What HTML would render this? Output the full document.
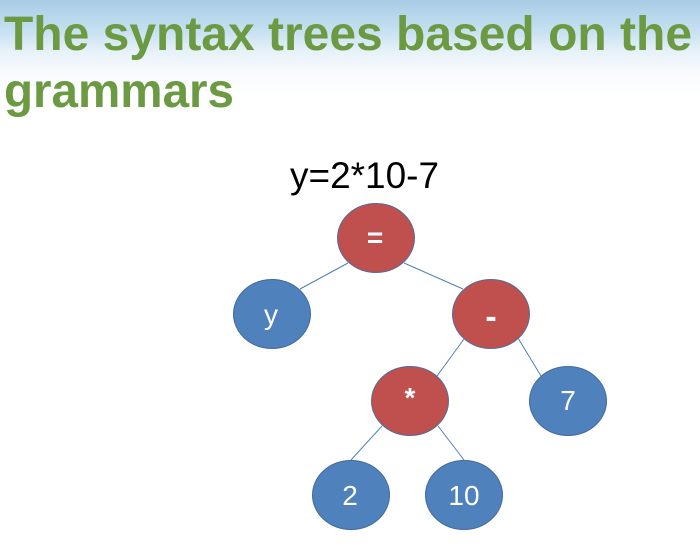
<!DOCTYPE html>
<html lang="en">
<head>
<meta charset="utf-8">
<title>The syntax trees based on the grammars</title>
<style>
html,body{margin:0;padding:0;background:#fff}
body{width:700px;height:553px;overflow:hidden}
svg{display:block}
text{font-family:"Liberation Sans",sans-serif}
.t{font-size:48px;font-weight:700;fill:#6b9a42}
.n{font-size:28px;fill:#fff;text-anchor:middle}
.b{font-weight:700}
.e{stroke:#4f81bd;stroke-width:1;fill:none}
.red{fill:#c0504d;stroke:#4a6f9f;stroke-width:1}
.blue{fill:#4f81bd;stroke:#41699a;stroke-width:1}
</style>
</head>
<body>
<svg width="700" height="553" viewBox="0 0 700 553">
<defs>
<linearGradient id="hdr" gradientUnits="userSpaceOnUse" x1="0" y1="0" x2="0" y2="100">
<stop offset="0" stop-color="#a7cde6"/>
<stop offset="0.3" stop-color="#c6dff0"/>
<stop offset="0.5" stop-color="#e4f0f8"/>
<stop offset="0.7" stop-color="#f7fafd"/>
<stop offset="1" stop-color="#ffffff"/>
</linearGradient>
</defs>
<rect x="0" y="0" width="700" height="553" fill="#fff"/>
<rect x="0" y="0" width="700" height="100" fill="url(#hdr)"/>
<text class="t" x="4" y="50" textLength="688" lengthAdjust="spacingAndGlyphs">The syntax trees based on the</text>
<text class="t" x="4" y="107" textLength="230" lengthAdjust="spacingAndGlyphs">grammars</text>
<text x="290" y="188" font-size="37" textLength="149" lengthAdjust="spacingAndGlyphs" fill="#000">y=2*10-7</text>

<line class="e" x1="348" y1="263" x2="300" y2="289"/>
<line class="e" x1="404" y1="263" x2="463" y2="289"/>
<line class="e" x1="464" y1="339" x2="437" y2="376"/>
<line class="e" x1="518" y1="338" x2="541" y2="376"/>
<line class="e" x1="382" y1="426" x2="351" y2="460"/>
<line class="e" x1="438" y1="426" x2="464" y2="460"/>

<ellipse class="red" cx="376" cy="238" rx="38.5" ry="34.5"/>
<text class="n b" x="375" y="247">=</text>
<ellipse class="blue" cx="272" cy="314" rx="38.5" ry="34.5"/>
<text class="n" x="271" y="324">y</text>
<ellipse class="red" cx="491" cy="314" rx="38.5" ry="34.5"/>
<text class="n b" x="491" y="328" style="font-size:34px">-</text>
<ellipse class="red" cx="410" cy="401" rx="38.5" ry="34.5"/>
<text class="n b" x="410" y="407">*</text>
<ellipse class="blue" cx="568" cy="401" rx="38.5" ry="34.5"/>
<text class="n" x="568" y="410">7</text>
<ellipse class="blue" cx="351" cy="495" rx="38.5" ry="34.5"/>
<text class="n" x="350" y="505">2</text>
<ellipse class="blue" cx="464" cy="495" rx="38.5" ry="34.5"/>
<text class="n" x="464" y="505">10</text>
</svg>
</body>
</html>
